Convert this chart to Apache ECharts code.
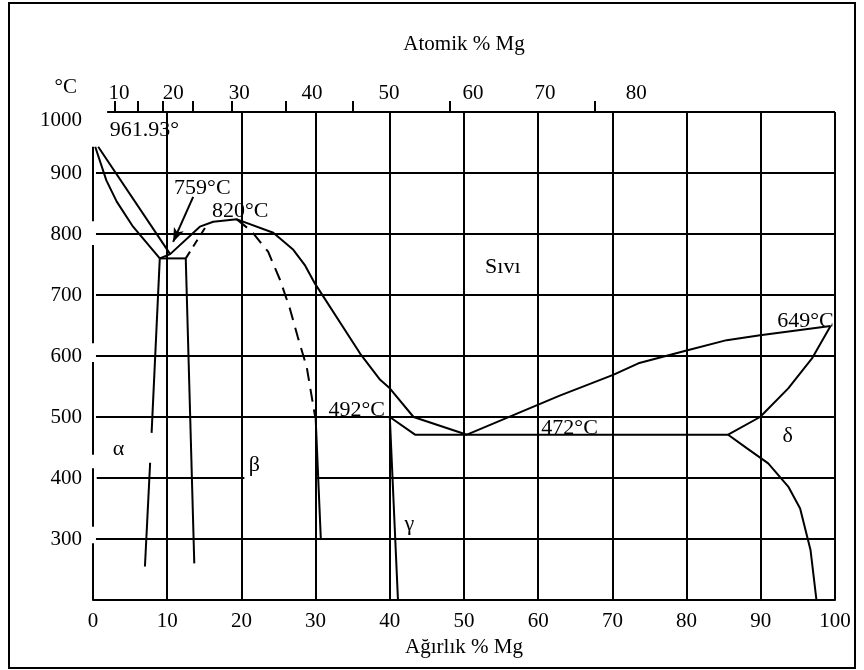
<!DOCTYPE html>
<html><head><meta charset="utf-8">
<script src="https://cdn.jsdelivr.net/npm/echarts@6/dist/echarts.min.js"></script>
<style>html,body{margin:0;padding:0;background:#fff}#c{width:864px;height:670px}</style>
</head><body><div id="c"></div>
<script>
const FONT = '"Liberation Serif","Times New Roman",serif';

// ---- axis data ----
const tempMin = 200, tempMax = 1000, tempStep = 100;
const weightMin = 0, weightMax = 100, weightStep = 10;
const atomicTickPos = [2.96, 6.06, 9.43, 13.48, 18.73, 26.0, 35.04, 48.1, 67.65];   // in weight %
const atomicLabelPos = [3.5, 10.8, 19.7, 29.5, 39.9, 51.2, 60.9, 73.2];             // in weight %
const atomicLabels = ['10', '20', '30', '40', '50', '60', '70', '80'];

// ---- frame / grid lines (weight %, °C) ----
const topBorder = [[1.9, 1000], [100, 1000]];
const gridTemps = [900, 800, 700, 600, 500, 300];
const gridTempFrom = 0.4;
const grid400Segments = [[0.5, 20.4], [30, 100]];
const leftBorderSegments = [[943, 821], [782, 621], [590, 438], [416, 320], [293, 200]];

// ---- phase boundaries (weight % Mg, °C) ----
const liquidusAlOuter = [[0.7, 943], [10.4, 767]];
const liquidusAlInner = [[0.3, 943], [1.8, 888], [3.2, 853], [5.4, 812], [9.0, 760]];
const eutectic759 = [[9.0, 760], [12.5, 760]];
const alphaSolvusA = [[9.0, 760], [7.9, 474]];
const alphaSolvusB = [[7.7, 425], [7.0, 255]];
const betaLeft = [[12.5, 760], [13.65, 260]];
const liquidusMain = [[9.0, 760], [10.4, 767], [14.4, 812], [16.2, 820], [19.4, 824], [24.3, 802],
  [27.0, 774], [28.6, 748], [29.9, 719], [36.0, 604], [38.7, 561], [40.0, 547], [43.2, 500], [50.4, 471]];
const dashedBetaLeft = [[12.5, 760], [15.3, 814]];
const dashedBetaRight = [[19.4, 824], [21.4, 804], [23.6, 771], [25.2, 725], [26.5, 679],
  [27.6, 631], [28.8, 582], [29.9, 503], [30, 500]];
const peritectic492 = [[30, 500], [40, 500]];
const gammaLeft = [[30, 500], [30.7, 301]];
const gammaRight = [[40, 500], [41.1, 200]];
const eutectic472 = [[40, 500], [43.4, 471], [85.6, 471]];
const liquidusMg = [[50.4, 471], [62.9, 535], [70.1, 569], [73.5, 588], [80.0, 609], [85.4, 626], [89.9, 634], [99.4, 649]];
const solidusMg = [[99.4, 649], [96.9, 596], [93.7, 547], [89.9, 500], [85.6, 471]];
const solvusMg = [[85.6, 471], [88.1, 449], [91.0, 424], [93.7, 386], [95.3, 350], [96.7, 282], [97.5, 200]];
const arrow759 = [[13.5, 861], [10.8, 787]];

// ---- annotations: [text, weight %, °C] ----
const annotations = [
  ['961.93°', 7.0, 969],
  ['759°C', 14.8, 874],
  ['820°C', 19.9, 836],
  ['Sıvı', 55.3, 744],
  ['492°C', 35.6, 511],
  ['472°C', 64.3, 480],
  ['649°C', 96.1, 656],
  ['α', 3.5, 446],
  ['β', 21.8, 420],
  ['γ', 42.7, 323],
  ['δ', 93.7, 467]
];

const chart = echarts.init(document.getElementById('c'), null, {renderer: 'canvas'});

const solid = {color: '#000', width: 2, type: 'solid'};
function lineSeries(data, style) {
  return {type: 'line', data: data, showSymbol: false, symbol: 'none', silent: true,
    animation: false, lineStyle: style || solid, itemStyle: {color: '#000'}, clip: false, z: 3};
}
const series = [];
series.push(lineSeries(topBorder));
gridTemps.forEach(t => series.push(lineSeries([[gridTempFrom, t], [weightMax, t]])));
grid400Segments.forEach(s => series.push(lineSeries([[s[0], 400], [s[1], 400]])));
leftBorderSegments.forEach(s => series.push(lineSeries([[0, s[0]], [0, s[1]]])));
[liquidusAlOuter, liquidusAlInner, eutectic759, alphaSolvusA, alphaSolvusB, betaLeft, liquidusMain,
 peritectic492, gammaLeft, gammaRight, eutectic472, liquidusMg, solidusMg, solvusMg]
  .forEach(d => series.push(lineSeries(d)));
const dashed = {color: '#000', width: 2, type: [13, 8]};
series.push(lineSeries(dashedBetaLeft, {color: '#000', width: 2, type: [8, 6]}));
series.push(lineSeries(dashedBetaRight, dashed));
// arrow
series.push({
  type: 'line', data: [], silent: true, animation: false,
  markLine: {
    silent: true, animation: false, symbol: ['none', 'arrow'], symbolSize: [8, 14],
    label: {show: false}, itemStyle: {color: '#000'},
    lineStyle: {color: '#000', width: 2, type: 'solid'},
    data: [[{coord: arrow759[0]}, {coord: arrow759[1]}]]
  }
});
// annotations
series.push({
  type: 'scatter', symbolSize: 1, silent: true, animation: false, z: 5,
  itemStyle: {color: 'rgba(0,0,0,0)'},
  data: annotations.map(a => ({name: a[0], value: [a[1], a[2]]})),
  label: {show: true, position: [0, 0], align: 'center', verticalAlign: 'middle',
    formatter: p => p.name, color: '#000', textBorderWidth: 0, opacity: 1,
    fontSize: 22, fontFamily: FONT}
});

chart.setOption({
  animation: false,
  backgroundColor: '#fff',
  grid: {left: 93, right: 29, top: 112, bottom: 70, containLabel: false},
  xAxis: [
    {
      type: 'value', position: 'bottom', min: weightMin, max: weightMax, interval: weightStep,
      axisLine: {show: true, onZero: false, lineStyle: {color: '#000', width: 2}},
      axisTick: {show: false},
      axisLabel: {color: '#000', fontSize: 21, fontFamily: FONT, margin: 11},
      splitLine: {show: true, showMinLine: false, showMaxLine: true, lineStyle: {color: '#000', width: 2}},
      name: 'Ağırlık % Mg', nameLocation: 'middle', nameGap: 34,
      nameTextStyle: {color: '#000', fontSize: 21, fontFamily: FONT}
    },
    {
      type: 'value', position: 'top', min: weightMin, max: weightMax,
      axisLine: {show: false},
      axisTick: {show: true, inside: false, length: 11, customValues: atomicTickPos,
        lineStyle: {color: '#000', width: 2}},
      axisLabel: {show: true, customValues: atomicLabelPos, margin: 8, color: '#000', fontSize: 21,
        fontFamily: FONT, formatter: v => {
          const i = atomicLabelPos.findIndex(p => Math.abs(p - v) < 1e-6);
          return i >= 0 ? atomicLabels[i] : '';
        }},
      splitLine: {show: false},
      name: 'Atomik % Mg', nameLocation: 'middle', nameGap: 57,
      nameTextStyle: {color: '#000', fontSize: 21, fontFamily: FONT}
    }
  ],
  yAxis: {
    type: 'value', min: tempMin, max: tempMax, interval: tempStep,
    axisLine: {show: false}, axisTick: {show: false}, splitLine: {show: false},
    axisLabel: {showMinLabel: false, color: '#000', fontSize: 21, fontFamily: FONT, margin: 11,
      formatter: v => v === tempMax ? '{low|' + v + '}' : String(v),
      rich: {low: {padding: [16, 0, 0, 0], fontSize: 21, fontFamily: FONT, color: '#000'}}},
    name: '°C', nameLocation: 'end', nameGap: 14,
    nameTextStyle: {color: '#000', fontSize: 21, fontFamily: FONT, align: 'right', padding: [0, 16, 0, 0]}
  },
  graphic: [{type: 'rect', shape: {x: 9, y: 3, width: 846, height: 665},
    style: {fill: 'none', stroke: '#000', lineWidth: 2}, silent: true, z: 0}],
  series: series
});
</script></body></html>
